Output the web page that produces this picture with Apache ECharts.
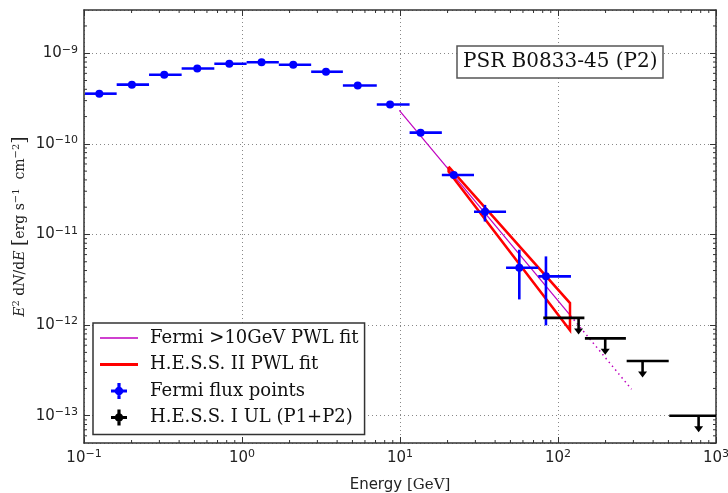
<!DOCTYPE html>
<html><head><meta charset="utf-8">
<script src="https://cdn.jsdelivr.net/npm/echarts@6/dist/echarts.min.js"></script>
<style>html,body{margin:0;padding:0;background:#fff}#c{width:728px;height:493px}</style>
</head><body><div id="c"></div>
<script>
// ---- Fermi flux points (energy in GeV, E^2 dN/dE in erg s^-1 cm^-2)
const fermiE   = [0.125, 0.201, 0.322, 0.521, 0.831, 1.33, 2.11, 3.40, 5.40, 8.65, 13.5, 21.9, 34.5, 56.9, 83.9];
const fermiElo = [0.1015, 0.161, 0.258, 0.415, 0.668, 1.07, 1.71, 2.74, 4.35, 7.13, 11.5, 18.4, 29.4, 46.9, 75.0];
const fermiEhi = [0.161, 0.258, 0.415, 0.668, 1.07, 1.71, 2.74, 4.35, 7.13, 11.5, 18.4, 29.4, 46.9, 75.0, 120.8];
const fermiF   = [3.58e-10, 4.50e-10, 5.80e-10, 6.79e-10, 7.65e-10, 7.96e-10, 7.46e-10, 6.25e-10, 4.41e-10, 2.72e-10, 1.33e-10, 4.53e-11, 1.78e-11, 4.30e-12, 3.45e-12];
const fermiFlo = [3.50e-10, 4.42e-10, 5.72e-10, 6.70e-10, 7.55e-10, 7.85e-10, 7.35e-10, 6.14e-10, 4.31e-10, 2.64e-10, 1.27e-10, 4.20e-11, 1.39e-11, 1.92e-12, 9.93e-13];
const fermiFhi = [3.66e-10, 4.58e-10, 5.88e-10, 6.88e-10, 7.75e-10, 8.07e-10, 7.57e-10, 6.36e-10, 4.51e-10, 2.80e-10, 1.39e-10, 4.88e-11, 2.12e-11, 6.79e-12, 5.73e-12];

// ---- H.E.S.S. I upper limits (P1+P2)
const ulE   = [135, 199, 343, 776];
const ulElo = [80.7, 148, 272, 506];
const ulEhi = [146.9, 269, 502, 1000];
const ulF   = [1.20e-12, 7.14e-13, 4.02e-13, 1.00e-13];

// ---- Fermi >10 GeV power-law fit (solid part, dotted extrapolation)
const fermiFitE      = [9.9, 120];
const fermiFitF      = [2.34e-10, 1.27e-12];
const fermiExtrapE   = [120, 292];
const fermiExtrapF   = [1.27e-12, 1.96e-13];

// ---- H.E.S.S. II power-law fit butterfly outline
const hessBandE = [20.3, 119.1, 119.1, 20.3, 20.3];
const hessBandF = [5.6e-11, 1.75e-12, 8.75e-13, 4.95e-11, 5.6e-11];

// ---- axes
const xMin = 0.1, xMax = 1000;
const yMin = 5e-14, yMax = 3e-9;
const minorMult = [2, 3, 4, 5, 6, 7, 8, 9];
const xDecades = [0.1, 1, 10, 100];
const yDecades = [1e-14, 1e-13, 1e-12, 1e-11, 1e-10, 1e-9];

const legendNames = ['Fermi >10GeV PWL fit', 'H.E.S.S. II PWL fit', 'Fermi flux points', 'H.E.S.S. I UL (P1+P2)'];
const titleText = 'PSR B0833-45 (P2)';

const minorData = [];
xDecades.forEach(d => minorMult.forEach(m => { const v = d * m; if (v > xMin && v < xMax) minorData.push([v, 1e-11, 0]); }));
yDecades.forEach(d => minorMult.forEach(m => { const v = d * m; if (v > yMin && v < yMax) minorData.push([1, v, 1]); }));

function powLabel(v) {
  const e = Math.log10(v);
  const r = Math.round(e);
  if (Math.abs(e - r) > 1e-6) return '';
  const s = r < 0 ? '\u2212' + (-r) : '' + r;
  return '{b|10}{s|' + s + '}';
}
const labelRich = {
  b: {fontFamily: 'DejaVu Sans', fontSize: 15, color: '#222', lineHeight: 18},
  s: {fontFamily: 'DejaVu Sans', fontSize: 11, color: '#222', padding: [0, 0, 7, 0]}
};
const frame = {color: '#333', width: 1.5};
const plusIcon = 'path://M6,0h3v6h6v3h-6v6h-3v-6h-6v-3h6zM3.5,7.5a4,4 0 1,1 8,0a4,4 0 1,1 -8,0z';

const chart = echarts.init(document.getElementById('c'), null, {renderer: 'canvas'});
chart.setOption({
  animation: false,
  backgroundColor: '#fff',
  grid: {left: 84, top: 10, width: 632, height: 433, containLabel: false, outerBoundsMode: 'none'},
  title: {
    text: titleText, left: 457, top: 46, padding: [5, 6, 5, 6],
    borderColor: '#555', borderWidth: 1.5, backgroundColor: '#fff',
    textStyle: {fontFamily: 'DejaVu Serif', fontSize: 20, fontWeight: 'normal', color: '#111', lineHeight: 22}
  },
  legend: {
    orient: 'vertical', left: 93, top: 323, padding: [5, 6, 7, 7], itemGap: 6.5,
    itemWidth: 38, itemHeight: 16, borderColor: '#333', borderWidth: 1.5, backgroundColor: '#fff',
    selectedMode: false,
    textStyle: {fontFamily: 'DejaVu Serif', fontSize: 18, color: '#111', lineHeight: 20, padding: [0, 0, 0, 7]},
    data: [
      {name: legendNames[0], icon: 'path://M0,0h38v1.5h-38z', itemStyle: {color: '#bf00bf'}},
      {name: legendNames[1], icon: 'path://M0,0h38v3h-38z', itemStyle: {color: '#ff0000'}},
      {name: legendNames[2], icon: plusIcon, itemStyle: {color: '#0000ff'}},
      {name: legendNames[3], icon: plusIcon, itemStyle: {color: '#000000'}}
    ]
  },
  xAxis: [{
    type: 'log', logBase: 10, min: xMin, max: xMax, position: 'bottom',
    axisLine: {show: true, onZero: false, lineStyle: frame},
    axisTick: {show: true, inside: true, length: 6, lineStyle: {color: '#333', width: 1}},
    axisLabel: {margin: 6, formatter: powLabel, rich: labelRich, showMinLabel: true, showMaxLabel: true},
    splitLine: {show: true, lineStyle: {color: '#888', type: [1, 3], width: 1}},
    name: '{a|Energy }{g|[GeV]}', nameLocation: 'middle', nameGap: 35, nameMoveOverlap: false,
    nameTextStyle: {rich: {
      a: {fontFamily: 'DejaVu Sans', fontSize: 15, color: '#222'},
      g: {fontFamily: 'DejaVu Serif', fontSize: 15, color: '#222'}
    }}
  }, {
    type: 'log', logBase: 10, min: xMin, max: xMax, position: 'top',
    axisLine: {show: true, onZero: false, lineStyle: frame},
    axisTick: {show: true, inside: true, length: 6, lineStyle: {color: '#333', width: 1}},
    axisLabel: {show: false}, splitLine: {show: false}
  }],
  yAxis: [{
    type: 'log', logBase: 10, min: yMin, max: yMax, position: 'left',
    axisLine: {show: true, onZero: false, lineStyle: frame},
    axisTick: {show: true, inside: true, length: 6, lineStyle: {color: '#333', width: 1}},
    axisLabel: {margin: 6, formatter: powLabel, rich: labelRich, showMinLabel: false, showMaxLabel: false},
    splitLine: {show: true, lineStyle: {color: '#888', type: [1, 3], width: 1}},
    name: '{i|E}{sup|2}{r| d}{i|N}{r|/d}{i|E}{r| }{br|[}{r|erg s}{sup|\u22121}{r|  cm}{sup|\u22122}{br|]}',
    nameLocation: 'middle', nameGap: 54, nameMoveOverlap: false,
    nameTextStyle: {rich: {
      i: {fontFamily: 'DejaVu Serif', fontStyle: 'italic', fontSize: 14, color: '#222'},
      r: {fontFamily: 'DejaVu Serif', fontSize: 14, color: '#222'},
      sup: {fontFamily: 'DejaVu Serif', fontSize: 10, color: '#222', padding: [0, 0, 8, 0]},
      br: {fontFamily: 'DejaVu Serif', fontSize: 19, color: '#222'}
    }}
  }, {
    type: 'log', logBase: 10, min: yMin, max: yMax, position: 'right',
    axisLine: {show: true, onZero: false, lineStyle: frame},
    axisTick: {show: true, inside: true, length: 6, lineStyle: {color: '#333', width: 1}},
    axisLabel: {show: false}, splitLine: {show: false}
  }],
  series: [
    {
      type: 'custom', name: 'minor ticks', silent: true, z: 1,
      data: minorData,
      renderItem: (params, api) => {
        const cs = params.coordSys;
        const kind = api.value(2);
        const p = api.coord([api.value(0), api.value(1)]);
        const st = {stroke: '#333', lineWidth: 1};
        if (kind === 0) {
          return {type: 'group', children: [
            {type: 'line', shape: {x1: p[0], y1: cs.y + cs.height, x2: p[0], y2: cs.y + cs.height - 3}, style: st},
            {type: 'line', shape: {x1: p[0], y1: cs.y, x2: p[0], y2: cs.y + 3}, style: st}
          ]};
        }
        return {type: 'group', children: [
          {type: 'line', shape: {x1: cs.x, y1: p[1], x2: cs.x + 3, y2: p[1]}, style: st},
          {type: 'line', shape: {x1: cs.x + cs.width, y1: p[1], x2: cs.x + cs.width - 3, y2: p[1]}, style: st}
        ]};
      }
    },
    {
      type: 'line', name: legendNames[0], z: 3, symbol: 'none',
      data: fermiFitE.map((e, i) => [e, fermiFitF[i]]),
      itemStyle: {color: '#bf00bf'}, lineStyle: {color: '#bf00bf', width: 1.2}
    },
    {
      type: 'line', name: legendNames[0], z: 3, symbol: 'none',
      data: fermiExtrapE.map((e, i) => [e, fermiExtrapF[i]]),
      itemStyle: {color: '#bf00bf'}, lineStyle: {color: '#bf00bf', width: 1.5, type: [1.5, 3.5]}
    },
    {
      type: 'line', name: legendNames[1], z: 4, symbol: 'none',
      data: hessBandE.map((e, i) => [e, hessBandF[i]]),
      itemStyle: {color: '#ff0000'}, lineStyle: {color: '#ff0000', width: 2.5, join: 'miter'}
    },
    {
      type: 'custom', name: legendNames[2], z: 5,
      itemStyle: {color: '#0000ff'},
      data: fermiE.map((e, i) => [e, fermiF[i], fermiElo[i], fermiEhi[i], fermiFlo[i], fermiFhi[i]]),
      encode: {x: [0, 2, 3], y: [1, 4, 5]},
      renderItem: (params, api) => {
        const c = api.coord([api.value(0), api.value(1)]);
        const l = api.coord([api.value(2), api.value(1)]);
        const r = api.coord([api.value(3), api.value(1)]);
        const lo = api.coord([api.value(0), api.value(4)]);
        const hi = api.coord([api.value(0), api.value(5)]);
        const st = {stroke: '#0000ff', lineWidth: 2.6};
        return {type: 'group', children: [
          {type: 'line', shape: {x1: l[0], y1: l[1], x2: r[0], y2: r[1]}, style: st},
          {type: 'line', shape: {x1: lo[0], y1: lo[1], x2: hi[0], y2: hi[1]}, style: st},
          {type: 'circle', shape: {cx: c[0], cy: c[1], r: 4}, style: {fill: '#0000ff'}}
        ]};
      }
    },
    {
      type: 'custom', name: legendNames[3], z: 6,
      itemStyle: {color: '#000000'},
      data: ulE.map((e, i) => [e, ulF[i], ulElo[i], ulEhi[i]]),
      encode: {x: [0, 2, 3], y: [1]},
      renderItem: (params, api) => {
        const c = api.coord([api.value(0), api.value(1)]);
        const l = api.coord([api.value(2), api.value(1)]);
        const r = api.coord([api.value(3), api.value(1)]);
        const st = {stroke: '#000', lineWidth: 2.6};
        return {type: 'group', children: [
          {type: 'line', shape: {x1: l[0], y1: l[1], x2: r[0], y2: r[1]}, style: st},
          {type: 'line', shape: {x1: c[0], y1: c[1], x2: c[0], y2: c[1] + 12}, style: st},
          {type: 'polygon', shape: {points: [[c[0] - 4.5, c[1] + 10.5], [c[0] + 4.5, c[1] + 10.5], [c[0], c[1] + 16.5]]}, style: {fill: '#000'}}
        ]};
      }
    }
  ]
});
</script>
</body></html>
